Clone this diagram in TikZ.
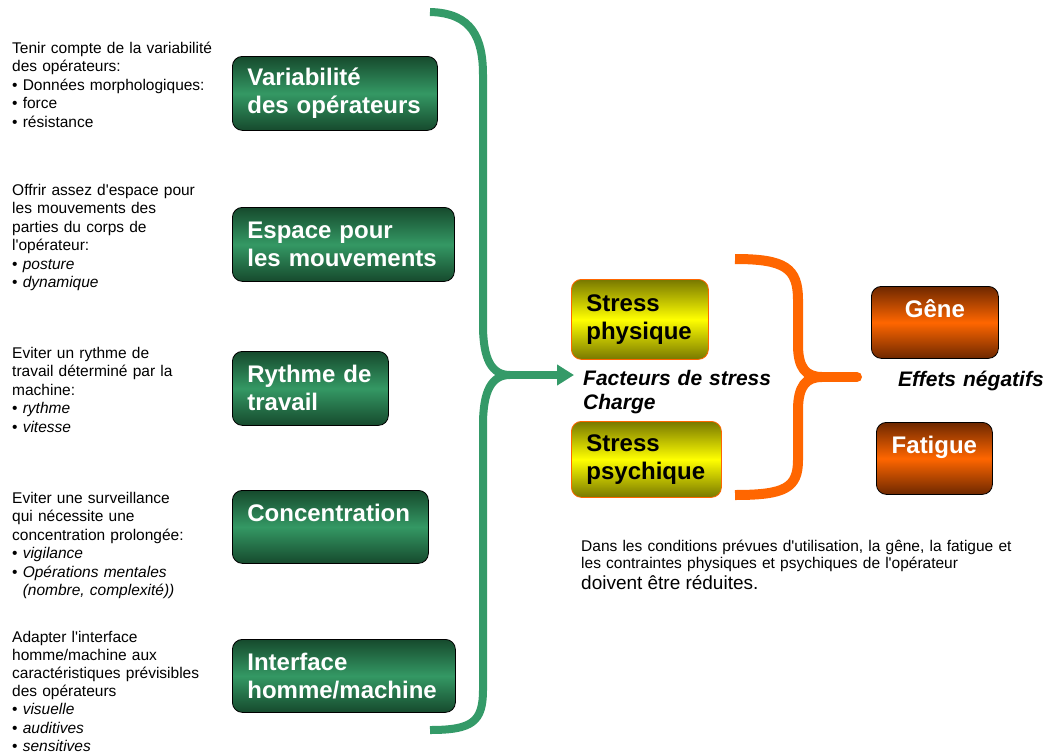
\documentclass[tikz,border=0pt]{standalone}
\usepackage{fontspec}
\setmainfont{Liberation Sans}
\usetikzlibrary{arrows.meta}

\definecolor{gdark}{RGB}{22,74,45}
\definecolor{gmid}{RGB}{52,152,100}
\definecolor{gbrace}{RGB}{52,154,104}
\definecolor{ydark}{RGB}{120,120,0}
\definecolor{ymid}{RGB}{255,255,0}
\definecolor{odark}{RGB}{110,40,0}
\definecolor{omid}{RGB}{255,102,0}

\begin{document}
\begin{tikzpicture}[x=1pt,y=1pt,
    note/.style={anchor=base west,inner sep=0pt,text width=235pt,align=left,
        font=\fontsize{15.5}{18.5}\selectfont},
    box/.style={anchor=north west,rounded corners=10pt,line width=0.8pt,
        inner xsep=15pt,inner ysep=0pt,align=left,
        font=\fontsize{24}{28}\selectfont\bfseries},
    greenbox/.style={box,draw=black,top color=gdark,bottom color=gdark,middle color=gmid,text=white},
    yellowbox/.style={box,draw=omid,top color=ydark,bottom color=ydark,middle color=ymid,text=black},
    orangebox/.style={box,draw=black,top color=odark,bottom color=odark,middle color=omid,text=white,align=center},
    tag/.style={anchor=base west,inner sep=0pt,text width=200pt,align=left,
        font=\fontsize{21}{24}\selectfont\bfseries\itshape}
]
    \useasboundingbox (0,0) rectangle (1049,-755);

    % Left notes
    \node[note] (n1) at (12,-53) {Tenir compte de la variabilité\\des opérateurs:\\\textbullet{} Données morphologiques:\\\textbullet{} force\\\textbullet{} résistance};
    \node[note] (n2) at (12,-195) {Offrir assez d\textquotesingle espace pour\\les mouvements des\\parties du corps de\\l\textquotesingle opérateur:\\\textbullet{} \textit{posture}\\\textbullet{} \textit{dynamique}};
    \node[note] (n3) at (12,-358) {Eviter un rythme de\\travail déterminé par la\\machine:\\\textbullet{} \textit{rythme}\\\textbullet{} \textit{vitesse}};
    \node[note] (n4) at (12,-503) {Eviter une surveillance\\qui nécessite une\\concentration prolongée:\\\textbullet{} \textit{vigilance}\\\textbullet{} \textit{Opérations mentales}\\\phantom{\textbullet{} }\textit{(nombre, complexité))}};
    \node[note,font=\fontsize{15.5}{18.2}\selectfont] (n5) at (12,-642) {Adapter l\textquotesingle interface\\homme/machine aux\\caractéristiques prévisibles\\des opérateurs\\\textbullet{} \textit{visuelle}\\\textbullet{} \textit{auditives}\\\textbullet{} \textit{sensitives}};

    % Green boxes
    \node[greenbox,text width=175pt,minimum height=74pt] (var) at (232,-56) {Variabilité\\des opérateurs};
    \node[greenbox,text width=192pt,minimum height=74pt] (esp) at (232,-207) {Espace pour\\les mouvements};
    \node[greenbox,text width=126pt,minimum height=74pt] (ryt) at (232,-351) {Rythme de\\travail};
    \node[greenbox,text width=166pt,minimum height=73pt] (con) at (232,-490) {Concentration\\\mbox{}};
    \node[greenbox,text width=193pt,minimum height=73pt] (ihm) at (232,-639) {Interface\\homme/machine};

    % Green brace and arrow
    \coordinate (gtip) at (510,-375);
    \coordinate (gend) at (574,-375);
    \draw[gbrace,line width=8pt] (430,-12) .. controls (472,-13) and (483,-38) .. (483,-75)
        -- (483,-325) .. controls (483,-360) and (492,-375) .. (gtip)
        .. controls (492,-375) and (483,-390) .. (483,-425)
        -- (483,-690) .. controls (483,-722) and (472,-730) .. (430,-730);
    \draw[gbrace,line width=8pt,-{Triangle[length=17pt,width=20pt]}] (gtip) -- (gend);

    % Stress boxes
    \node[yellowbox,text width=107pt,minimum height=80pt] (sph) at (571,-279) {Stress\\physique};
    \node[yellowbox,text width=120pt,minimum height=76pt] (sps) at (571,-421) {Stress\\psychique};
    \node[tag] (fac) at (583,-385) {Facteurs de stress\\Charge};

    % Orange brace
    \coordinate (otip) at (822,-377);
    \coordinate (oend) at (857,-377);
    \draw[omid,line width=10pt] (735,-259) .. controls (785,-259) and (798,-268) .. (798,-300)
        -- (798,-345) .. controls (798,-368) and (806,-377) .. (otip)
        .. controls (806,-377) and (798,-386) .. (798,-410)
        -- (798,-460) .. controls (798,-488) and (785,-495) .. (735,-495);
    \draw[omid,line width=10pt,line cap=round] (otip) -- (oend);

    % Effects
    \node[orangebox,text width=97pt,minimum height=72pt] (gen) at (871,-286) {Gêne\\\mbox{}};
    \node[orangebox,text width=86pt,minimum height=72pt] (fat) at (876,-422) {Fatigue\\\mbox{}};
    \node[tag,text width=150pt] (eff) at (898,-386) {Effets négatifs};

    % Conclusion
    \node[anchor=base west,inner sep=0pt,text width=460pt,align=left,font=\fontsize{15.5}{17}\selectfont] (concl) at (581,-551)
        {Dans les conditions prévues d\textquotesingle utilisation, la gêne, la fatigue et\\les contraintes physiques et psychiques de l\textquotesingle opérateur\\{\fontsize{19}{21.5}\selectfont doivent être réduites.\par}};
\end{tikzpicture}
\end{document}
